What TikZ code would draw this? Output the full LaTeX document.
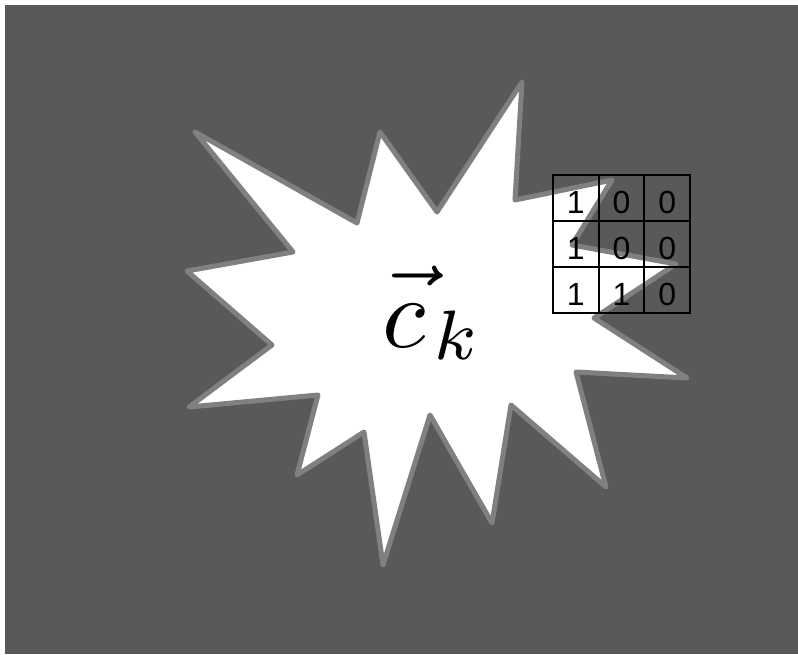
\documentclass[tikz,border=0pt]{standalone}
\usepackage{fontspec}
\newfontfamily\cellfont{Liberation Sans}
\definecolor{bggray}{HTML}{595959}
\definecolor{stargray}{HTML}{808080}
\begin{document}
\begin{tikzpicture}[x=1pt,y=-1pt,
  starline/.style={draw=stargray, line width=5pt, line join=round, fill=white},
  cell/.style={draw=black, line width=2pt, minimum width=45.7pt, minimum height=46pt,
    inner sep=0pt, text height=30pt, text depth=0pt,
    font=\cellfont\fontsize{32}{36}\selectfont},
  bigmath/.style={scale=10, anchor=base, inner sep=0pt}]
\useasboundingbox (0,0) rectangle (798,654);
\fill[white] (0,0) rectangle (798,654);
\fill[bggray] (5,5) rectangle (798,654);
% starburst
\draw[starline] (195,132) -- (357,223) -- (380,132) -- (437,212) -- (522,82)
  -- (515,200) -- (612,180) -- (572,245) -- (676,264) -- (594,318)
  -- (687,378) -- (576,372) -- (606,487) -- (511,405) -- (492,523)
  -- (430,415) -- (383,565) -- (364,432) -- (297,475) -- (318,395)
  -- (189,407) -- (272,345) -- (187,271) -- (293,252) -- cycle;
% label c_k with vector arrow
\node[bigmath] (cvar) at (404.5,347) {$c$};
\node[bigmath, xscale=1.15] (carrow) at (409,337) {$\vec{\phantom{c}}$};
\node[bigmath] (ksub) at (456,359) {$\scriptstyle k$};
% table
\node[cell] (c11) at (575.8,198) {1};
\node[cell] (c12) at (621.5,198) {0};
\node[cell] (c13) at (667.2,198) {0};
\node[cell] (c21) at (575.8,244) {1};
\node[cell] (c22) at (621.5,244) {0};
\node[cell] (c23) at (667.2,244) {0};
\node[cell] (c31) at (575.8,290) {1};
\node[cell] (c32) at (621.5,290) {1};
\node[cell] (c33) at (667.2,290) {0};
\end{tikzpicture}
\end{document}
